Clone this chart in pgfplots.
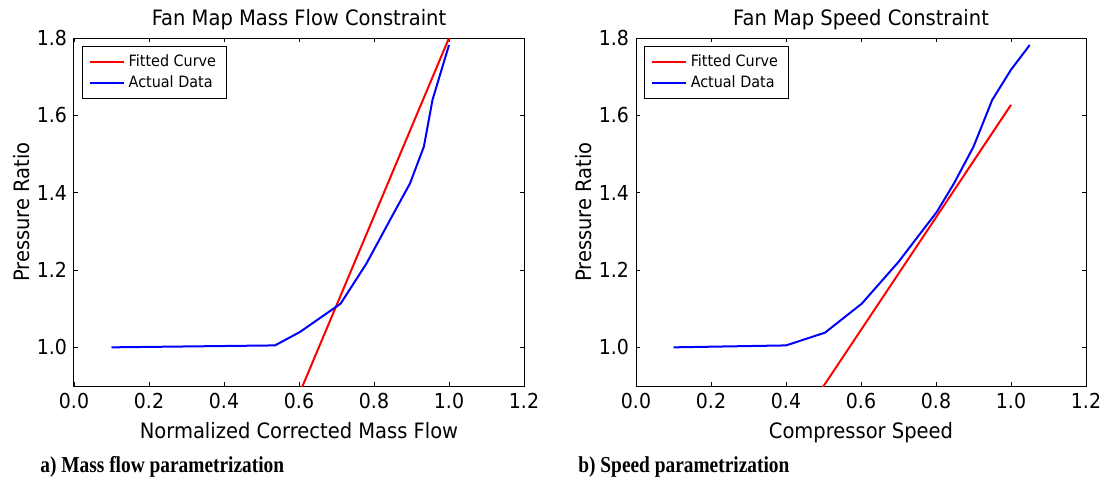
\documentclass[border=0pt]{standalone}
\usepackage{pgfplots}
\pgfplotsset{compat=1.18}
\usepackage{fontspec}
\setmainfont[FakeStretch=0.92]{DejaVu Sans}
\newfontfamily\capfont[FakeStretch=0.85]{Liberation Serif}

\pgfplotsset{
  mapstyle/.style={
    scale only axis,
    width=225pt, height=174pt,
    xmin=0, xmax=1.2, ymin=0.9, ymax=1.8,
    xtick={0,0.2,...,1.2}, ytick={1.0,1.2,...,1.8},
    xticklabel style={/pgf/number format/.cd,fixed,fixed zerofill,precision=1},
    yticklabel style={/pgf/number format/.cd,fixed,fixed zerofill,precision=1},
    /pgf/number format/assume math mode=true,
    tick align=inside, major tick length=2.2pt,
    tick style={black, line width=0.4pt},
    axis line style={line width=0.5pt},
    font=\fontsize{10.3}{12}\selectfont,
    title style={font=\fontsize{10.6}{12}\selectfont, yshift=-5.5pt},
    xlabel style={font=\fontsize{10.6}{12}\selectfont, yshift=0pt},
    ylabel style={font=\fontsize{10.6}{12}\selectfont, yshift=-3.5pt},
    ylabel={Pressure Ratio},
    clip=true,
    legend style={font=\fontsize{7.8}{9}\selectfont, draw=black, line width=0.5pt,
      at={(0.018,0.977)}, anchor=north west, row sep=-1pt, inner xsep=3pt, inner ysep=2pt},
    legend cell align=left,
    every axis plot/.append style={line width=1pt},
  }
}

\begin{document}
\begin{tikzpicture}
\path[use as bounding box] (0,0) rectangle (552pt,-239.5pt);

\begin{axis}[mapstyle, at={(37pt,-193pt)}, anchor=south west,
  title={Fan Map Mass Flow Constraint},
  xlabel={Normalized Corrected Mass Flow}]
\addplot[red] coordinates {(0.59,0.855) (1.0,1.8)};
\addlegendentry{Fitted Curve}
\addplot[blue] coordinates {
  (0.1,1.0) (0.536,1.005) (0.603,1.04) (0.711,1.113) (0.78,1.217)
  (0.852,1.346) (0.896,1.424) (0.933,1.519) (0.956,1.64) (1.0,1.782)};
\addlegendentry{Actual Data}
\end{axis}

\begin{axis}[mapstyle, at={(318pt,-193pt)}, anchor=south west,
  title={Fan Map Speed Constraint},
  xlabel={Compressor Speed}]
\addplot[red] coordinates {(0.49,0.885) (1.0,1.627)};
\addlegendentry{Fitted Curve}
\addplot[blue] coordinates {
  (0.1,1.0) (0.4,1.005) (0.504,1.038) (0.602,1.113) (0.7,1.221)
  (0.802,1.35) (0.848,1.424) (0.9,1.519) (0.95,1.64) (1.0,1.718) (1.05,1.782)};
\addlegendentry{Actual Data}
\end{axis}

\node[anchor=base west, inner sep=0pt, font=\capfont\bfseries\fontsize{11.4}{13}\selectfont]
  at (20pt,-236pt) {a) Mass flow parametrization};
\node[anchor=base west, inner sep=0pt, font=\capfont\bfseries\fontsize{11.4}{13}\selectfont]
  at (289pt,-236pt) {b) Speed parametrization};
\end{tikzpicture}
\end{document}
